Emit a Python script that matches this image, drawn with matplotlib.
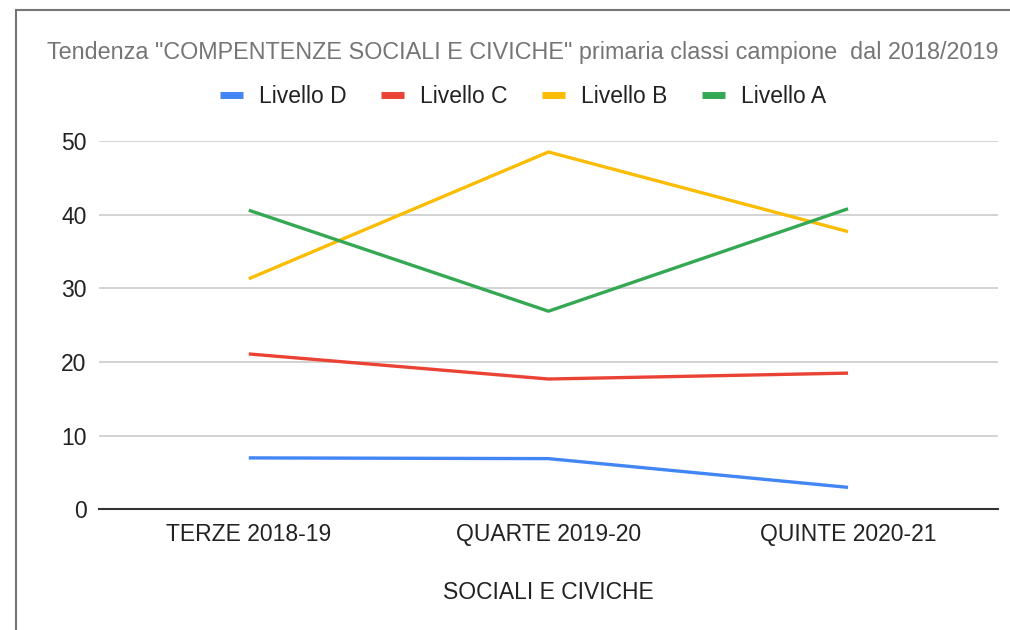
import numpy as np
import matplotlib.pyplot as plt
from matplotlib.lines import Line2D

plt.rcParams['font.family'] = ['Liberation Sans', 'DejaVu Sans']

categorie = ['TERZE 2018-19', 'QUARTE 2019-20', 'QUINTE 2020-21']
livello_d = [7.0, 6.9, 3.0]
livello_c = [21.1, 17.7, 18.5]
livello_b = [31.3, 48.5, 37.7]
livello_a = [40.6, 26.9, 40.8]

serie = [('Livello D', livello_d, '#4285F4'),
         ('Livello C', livello_c, '#EA4335'),
         ('Livello B', livello_b, '#FBBC04'),
         ('Livello A', livello_a, '#34A853')]

fig = plt.figure(figsize=(10.1, 6.3), dpi=100)
ax = fig.add_axes([0.098, 0.1913, 0.89, 0.585])

x = np.arange(len(categorie))
for nome, valori, colore in serie:
    ax.plot(x, valori, color=colore, lw=2.4, label=nome, solid_capstyle='butt')

ax.set_xlim(-0.5, 2.5)
ax.set_ylim(0, 50)
ax.set_yticks([0, 10, 20, 30, 40, 50])
ax.set_xticks(x)
ax.set_xticklabels(categorie)
ax.grid(axis='y', color='#cccccc', lw=1.2)
ax.set_axisbelow(True)
for s in ['top', 'right', 'left']:
    ax.spines[s].set_visible(False)
ax.spines['bottom'].set_color('#333333')
ax.spines['bottom'].set_linewidth(1.5)
ax.spines['bottom'].set_zorder(3)
ax.tick_params(length=0, labelsize=16.5, colors='#222222')
ax.tick_params(axis='y', pad=9)
ax.tick_params(axis='x', pad=10)
ax.set_xlabel('SOCIALI E CIVICHE', fontsize=16.5, color='#222222', labelpad=25)

fig.text(0.518, 0.917, 'Tendenza "COMPENTENZE SOCIALI E CIVICHE" primaria classi campione  dal 2018/2019',
         ha='center', va='center', fontsize=16.8, color='#757575')

handles = [Line2D([], [], color=c, lw=5, solid_capstyle='butt') for _, _, c in serie]
fig.legend(handles, [n for n, _, _ in serie], loc='center', bbox_to_anchor=(0.518, 0.847),
           ncol=4, frameon=False, fontsize=16.5, handlelength=1.0, columnspacing=1.5,
           handletextpad=0.7, labelcolor='#222222')

# cornice
fig.add_artist(Line2D([16 / 1010, 16 / 1010], [0, 1 - 10 / 630], color='#757575', lw=1.5))
fig.add_artist(Line2D([16 / 1010, 1], [1 - 10 / 630, 1 - 10 / 630], color='#757575', lw=1.5))

fig.savefig('out.png', dpi=100)
